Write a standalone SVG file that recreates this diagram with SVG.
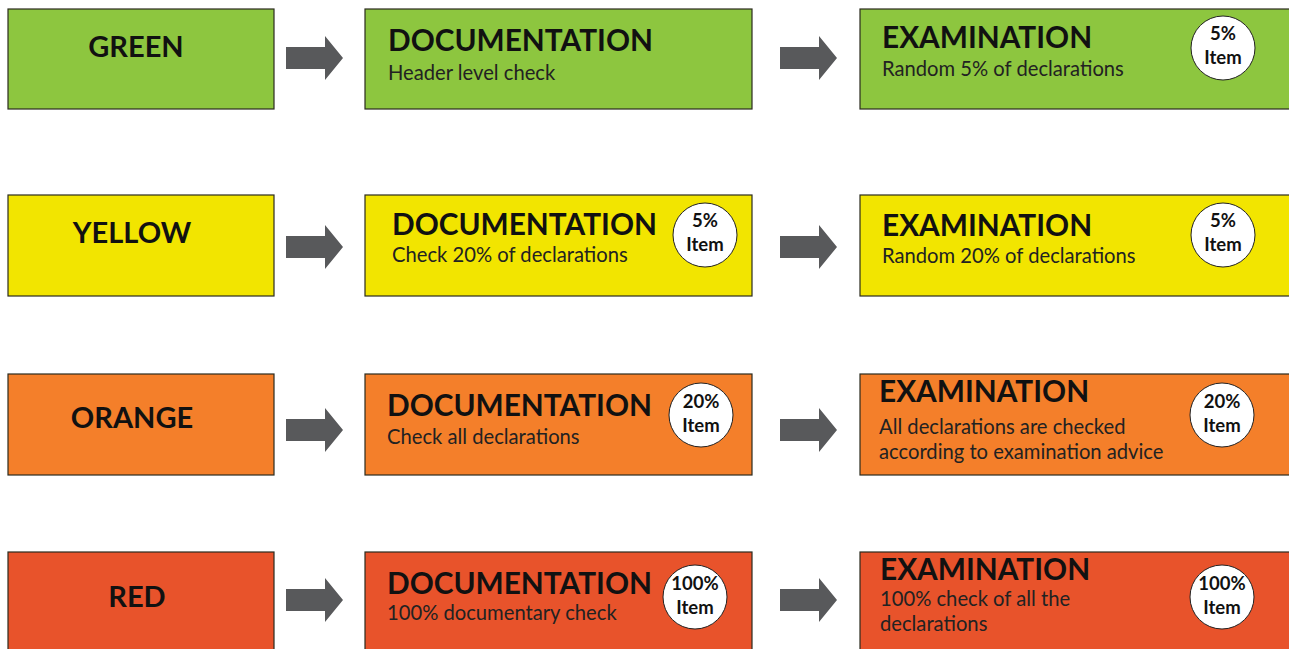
<svg xmlns="http://www.w3.org/2000/svg" width="1289" height="649" viewBox="0 0 1289 649">
<defs>
<style>
.box{stroke:#2b2b1f;stroke-width:1.2}
.g{fill:#8dc63f}.y{fill:#f2e500}.o{fill:#f47f2a}.r{fill:#e8532b}
.lvl{font-family:Lato,"Liberation Sans",sans-serif;font-weight:700;font-size:29px;fill:#111;text-anchor:middle}
.ttl{font-family:Lato,"Liberation Sans",sans-serif;font-weight:700;font-size:29.8px;fill:#111}
.sub{font-family:Lato,"Liberation Sans",sans-serif;font-size:20.2px;fill:#222}
.circ{fill:#fff;stroke:#222;stroke-width:1}
.ct{font-family:Lato,"Liberation Sans",sans-serif;font-weight:700;font-size:18.5px;fill:#111;text-anchor:middle}
.arr{fill:#58595b}
</style>
<path id="arrow" d="M0,-11 H39 V-22 L57,0 L39,22 V11 H0 Z"/>
</defs>

<g id="connectors">
<use href="#arrow" class="arr" x="286" y="58"/>
<use href="#arrow" class="arr" x="780" y="58"/>
<use href="#arrow" class="arr" x="286" y="247"/>
<use href="#arrow" class="arr" x="780" y="247"/>
<use href="#arrow" class="arr" x="286" y="430"/>
<use href="#arrow" class="arr" x="780" y="430"/>
<use href="#arrow" class="arr" x="286" y="600"/>
<use href="#arrow" class="arr" x="780" y="600"/>
</g>

<g id="green">
<rect class="box g" x="8" y="9" width="266" height="100"/>
<text class="lvl" x="136" y="57">GREEN</text>
</g>
<g id="green-doc">
<rect class="box g" x="365" y="9" width="387" height="100"/>
<text class="ttl" x="388" y="51">DOCUMENTATION</text>
<text class="sub" x="388" y="80">Header level check</text>
</g>
<g id="green-exam">
<rect class="box g" x="860" y="9" width="440" height="100"/>
<text class="ttl" x="882" y="48">EXAMINATION</text>
<text class="sub" x="882" y="76">Random 5% of declarations</text>
<circle class="circ" cx="1223" cy="48" r="32"/>
<text class="ct" x="1223" y="40">5%</text>
<text class="ct" x="1223" y="64">Item</text>
</g>

<g id="yellow">
<rect class="box y" x="8" y="195" width="266" height="101"/>
<text class="lvl" x="132" y="243">YELLOW</text>
</g>
<g id="yellow-doc">
<rect class="box y" x="365" y="195" width="387" height="101"/>
<text class="ttl" x="392" y="235">DOCUMENTATION</text>
<text class="sub" x="392" y="262">Check 20% of declarations</text>
<circle class="circ" cx="705" cy="235" r="32"/>
<text class="ct" x="705" y="227">5%</text>
<text class="ct" x="705" y="251">Item</text>
</g>
<g id="yellow-exam">
<rect class="box y" x="860" y="195" width="440" height="101"/>
<text class="ttl" x="882" y="236">EXAMINATION</text>
<text class="sub" x="882" y="263">Random 20% of declarations</text>
<circle class="circ" cx="1223" cy="235" r="32"/>
<text class="ct" x="1223" y="227">5%</text>
<text class="ct" x="1223" y="251">Item</text>
</g>

<g id="orange">
<rect class="box o" x="8" y="374" width="266" height="101"/>
<text class="lvl" x="132" y="428">ORANGE</text>
</g>
<g id="orange-doc">
<rect class="box o" x="365" y="374" width="387" height="101"/>
<text class="ttl" x="387" y="416">DOCUMENTATION</text>
<text class="sub" x="387" y="444">Check all declarations</text>
<circle class="circ" cx="701" cy="415" r="32"/>
<text class="ct" x="701" y="408">20%</text>
<text class="ct" x="701" y="432">Item</text>
</g>
<g id="orange-exam">
<rect class="box o" x="860" y="374" width="440" height="101"/>
<text class="ttl" x="879" y="402">EXAMINATION</text>
<text class="sub" x="879" y="434">All declarations are checked</text>
<text class="sub" x="879" y="459">according to examination advice</text>
<circle class="circ" cx="1222" cy="415" r="32"/>
<text class="ct" x="1222" y="408">20%</text>
<text class="ct" x="1222" y="432">Item</text>
</g>

<g id="red">
<rect class="box r" x="8" y="552" width="266" height="110"/>
<text class="lvl" x="137" y="607">RED</text>
</g>
<g id="red-doc">
<rect class="box r" x="365" y="552" width="387" height="110"/>
<text class="ttl" x="387" y="594">DOCUMENTATION</text>
<text class="sub" x="387" y="620">100% documentary check</text>
<circle class="circ" cx="695" cy="597" r="32"/>
<text class="ct" x="695" y="590">100%</text>
<text class="ct" x="695" y="614">Item</text>
</g>
<g id="red-exam">
<rect class="box r" x="860" y="552" width="440" height="110"/>
<text class="ttl" x="880" y="580">EXAMINATION</text>
<text class="sub" x="880" y="606">100% check of all the</text>
<text class="sub" x="880" y="631">declarations</text>
<circle class="circ" cx="1222" cy="597" r="32"/>
<text class="ct" x="1222" y="590">100%</text>
<text class="ct" x="1222" y="614">Item</text>
</g>
</svg>
